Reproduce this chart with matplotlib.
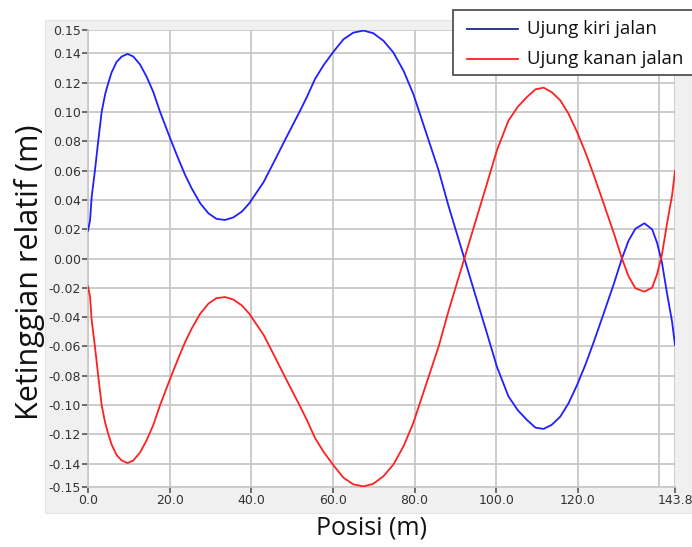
import matplotlib
matplotlib.use("Agg")
import matplotlib.pyplot as plt
from matplotlib.patches import Rectangle
from matplotlib.lines import Line2D

# ---- data ----
posisi = [0.0, 0.5, 0.9, 1.7, 2.5, 3.35, 4.2, 5.0, 5.8, 7.0, 8.25, 9.7, 11.1,
          12.75, 14.4, 16.0, 17.65, 20.3, 22.1, 23.8, 25.4, 27.5, 29.5, 31.5,
          33.6, 35.6, 37.7, 39.5, 43.0, 45.4, 48.3, 52.0, 53.6, 55.6, 57.7,
          60.1, 62.6, 65.0, 67.5, 69.9, 72.4, 74.8, 77.3, 79.7, 83.4, 85.9,
          88.3, 92.2, 94.9, 97.3, 100.2, 103.0, 105.3, 107.5, 109.6, 111.6,
          113.6, 115.7, 117.7, 119.8, 121.8, 123.9, 126.3, 128.8, 130.8,
          132.4, 134.1, 136.3, 138.2, 139.4, 140.6, 141.8, 143.1, 143.8]
ujung_kiri = [0.019, 0.026, 0.042, 0.060, 0.080, 0.100, 0.112, 0.120, 0.127,
              0.134, 0.1377, 0.1395, 0.1377, 0.1323, 0.1237, 0.1135, 0.100,
              0.0807, 0.0682, 0.0569, 0.0478, 0.0376, 0.0308, 0.027, 0.0263,
              0.028, 0.032, 0.0376, 0.052, 0.065, 0.081, 0.101, 0.110, 0.1223,
              0.1318, 0.1409, 0.1495, 0.154, 0.1554, 0.1536, 0.1484, 0.1405,
              0.128, 0.1121, 0.081, 0.060, 0.036, 0.000, -0.025, -0.047,
              -0.074, -0.094, -0.1035, -0.110, -0.1153, -0.1162, -0.1134,
              -0.1078, -0.0988, -0.0863, -0.0728, -0.0569, -0.0377, -0.0174,
              0.000, 0.012, 0.0203, 0.024, 0.0199, 0.0108, -0.0027, -0.023,
              -0.0434, -0.059]
ujung_kanan = [-0.019, -0.026, -0.042, -0.060, -0.080, -0.100, -0.112, -0.120,
               -0.127, -0.134, -0.1377, -0.1395, -0.1377, -0.1323, -0.1237,
               -0.1135, -0.100, -0.0807, -0.0682, -0.0569, -0.0478, -0.0376,
               -0.0308, -0.027, -0.0263, -0.028, -0.032, -0.0376, -0.052,
               -0.065, -0.081, -0.101, -0.110, -0.1223, -0.1318, -0.1409,
               -0.1495, -0.154, -0.1554, -0.1536, -0.1484, -0.1405, -0.128,
               -0.1121, -0.081, -0.060, -0.036, 0.000, 0.025, 0.047, 0.074,
               0.094, 0.1035, 0.110, 0.1153, 0.1165, 0.1134, 0.1078, 0.0988,
               0.0863, 0.0728, 0.0569, 0.0377, 0.0174, 0.000, -0.012, -0.0203,
               -0.0226, -0.0199, -0.0108, 0.0027, 0.023, 0.0434, 0.0597]

x_ticks = [0.0, 20.0, 40.0, 60.0, 80.0, 100.0, 120.0, 143.8]
x_tick_labels = ["0.0", "20.0", "40.0", "60.0", "80.0", "100.0", "120.0", "143.8"]
y_ticks = [-0.1558, -0.14, -0.12, -0.10, -0.08, -0.06, -0.04, -0.02, 0.00,
           0.02, 0.04, 0.06, 0.08, 0.10, 0.12, 0.14, 0.1558]
y_tick_labels = ["-0.15", "-0.14", "-0.12", "-0.10", "-0.08", "-0.06", "-0.04",
                 "-0.02", "0.00", "0.02", "0.04", "0.06", "0.08", "0.10",
                 "0.12", "0.14", "0.15"]
legend_labels = ["Ujung kiri jalan", "Ujung kanan jalan"]

W, H = 692, 547
fig = plt.figure(figsize=(W / 100, H / 100), dpi=100)
fig.patch.set_facecolor("white")

# gray panel behind the graph
fig.patches.append(Rectangle((45 / W, 1 - 513 / H), (W - 45) / W, (513 - 20) / H,
                             transform=fig.transFigure, facecolor="#f0f0f0",
                             edgecolor="#e4e4e4", linewidth=0.8, zorder=-5))

ax = fig.add_axes([88 / W, 1 - 487 / H, (675 - 88) / W, (487 - 30) / H])
ax.set_zorder(1)
ax.set_facecolor("white")

ax.plot(posisi, ujung_kiri, color="#1f1fff", lw=1.3, zorder=3)
ax.plot(posisi, ujung_kanan, color="#ff2020", lw=1.3, zorder=3)

ax.set_xlim(0, 143.8)
ax.set_ylim(-0.1558, 0.1558)
ax.set_xticks(x_ticks)
ax.set_xticklabels(x_tick_labels)
ax.set_xticks([140.0], minor=True)
ax.set_yticks(y_ticks)
ax.set_yticklabels(y_tick_labels)

ax.grid(True, which="both", color="#c8c8c8", lw=1.3, zorder=1)
ax.set_axisbelow(True)
ax.tick_params(axis="x", which="minor", length=0)
ax.tick_params(axis="both", which="major", length=4, width=1.2, color="#555555",
               labelsize=9, labelcolor="#333333", pad=1)
for s in ["top", "right"]:
    ax.spines[s].set_visible(False)
for s in ["left", "bottom"]:
    ax.spines[s].set_color("#c8c8c8")
    ax.spines[s].set_linewidth(1.2)

fig.text(30 / W, 1 - 272 / H, "Ketinggian relatif (m)", rotation=90,
         ha="center", va="center", fontsize=22, family="Open Sans", color="#111111")
fig.text(372 / W, 1 - 528 / H, "Posisi (m)", ha="center", va="center",
         fontsize=18, family="Open Sans", color="#111111")

# legend box
legend_ax = fig.add_axes([0, 0, 1, 1], facecolor="none")
legend_ax.set_zorder(5)
legend_ax.set_axis_off()
legend_ax.set_xlim(0, 1)
legend_ax.set_ylim(0, 1)
legend_ax.add_patch(Rectangle((453 / W, 1 - 75 / H), (W - 453 + 5) / W, (75 - 10) / H,
                              facecolor="white", edgecolor="#444444", linewidth=1.2,
                              clip_on=False))
for i, (lab, col) in enumerate(zip(legend_labels, ["#1a2a80", "#ff2020"])):
    yy = 1 - (29 + 30 * i) / H
    legend_ax.add_line(Line2D([467 / W, 518 / W], [yy, yy], color=col, lw=1.3))
    legend_ax.text(527 / W, yy, lab, ha="left", va="center", fontsize=13.4,
                   family="Open Sans", color="#111111")

fig.savefig("out.png", dpi=100)
